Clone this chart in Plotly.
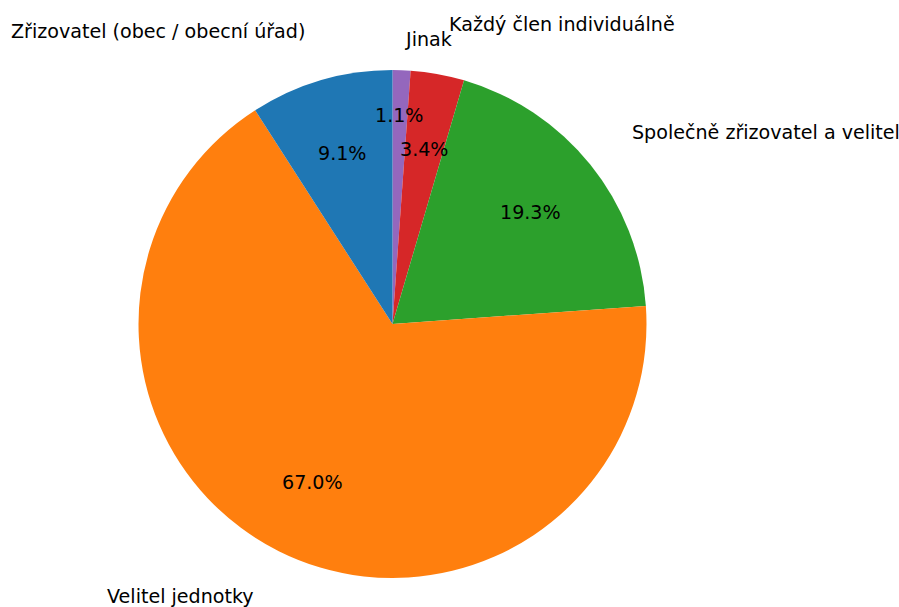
import math
import plotly.graph_objects as go

labels = ["Zřizovatel (obec / obecní úřad)", "Velitel jednotky",
          "Společně zřizovatel a velitel", "Každý člen individuálně", "Jinak"]
counts = [8, 59, 17, 3, 1]
colors = ["#1f77b4", "#ff7f0e", "#2ca02c", "#d62728", "#9467bd"]
label_dist = [1.2, 1.2, 1.2, 1.2, 1.12]
pct_dist = [0.7, 0.7, 0.7, 0.7, 0.82]

W, H = 899, 607
cx, cy, r = 392.5, 283.0, 254.0  # pixel centre (from bottom) and radius

# matplotlib-style: first slice starts at 12 o'clock, going counterclockwise.
# Equivalent in plotly: reversed order, clockwise from 12 o'clock.
fig = go.Figure(go.Pie(
    labels=labels[::-1], values=counts[::-1], sort=False,
    direction="clockwise", rotation=0,
    marker=dict(colors=colors[::-1], line=dict(width=0)),
    textinfo="none", hoverinfo="label+percent", showlegend=False,
    domain=dict(x=[(cx - r) / W, (cx + r) / W], y=[(cy - r) / H, (cy + r) / H]),
))

total = sum(counts)
start = 90.0
annotations = []
font = dict(family="DejaVu Sans", size=19.1, color="black")
for lab, v, ld, pd in zip(labels, counts, label_dist, pct_dist):
    frac = v / total
    mid = math.radians(start + frac * 360 / 2)
    start += frac * 360
    c, s = math.cos(mid), math.sin(mid)
    lx = cx + ld * r * c
    ly = cy + ld * r * s
    annotations.append(dict(x=lx / W, y=ly / H, xref="paper", yref="paper",
                            text=lab, showarrow=False, font=font,
                            xanchor="left" if c > 0 else "right", yanchor="middle"))
    px = cx + pd * r * c
    py = cy + pd * r * s
    annotations.append(dict(x=px / W, y=py / H, xref="paper", yref="paper",
                            text=f"{frac * 100:.1f}%", showarrow=False, font=font,
                            xanchor="center", yanchor="middle"))

fig.update_layout(width=W, height=H, margin=dict(l=0, r=0, t=0, b=0),
                  paper_bgcolor="white", plot_bgcolor="white",
                  annotations=annotations)
fig.write_html("out.html", config={"displayModeBar": False},
               post_script="document.body.style.margin='0';document.body.style.overflow='hidden';")
